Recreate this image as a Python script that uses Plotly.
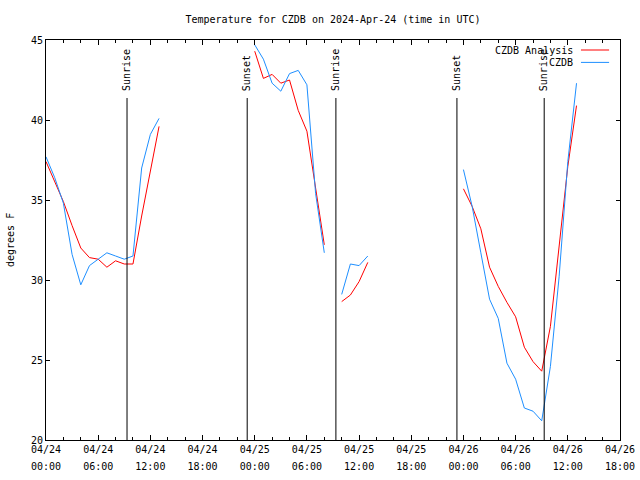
import plotly.graph_objects as go
import pandas as pd

# Hourly times from 2024-04-24 00:00 to 2024-04-26 13:00 (UTC)
times = pd.date_range("2024-04-24 00:00", "2024-04-26 13:00", freq="h")
N = None

analysis = [37.4, 36.2, 34.9, 33.4, 32.0, 31.4, 31.3, 30.8, 31.2, 31.0, 31.0, 34.0, 36.9, 39.6,
            N, N, N, N, N, N, N, N, N, N,
            44.3, 42.6, 42.85, 42.3, 42.5, 40.6, 39.3, 35.6, 32.2,
            N,
            28.65, 29.06, 29.9, 31.1,
            N, N, N, N, N, N, N, N, N, N,
            35.7, 34.6, 33.2, 30.8, 29.6, 28.6, 27.7, 25.8, 24.9, 24.3, 27.1, 32.1, 37.1, 40.9]

observed = [37.7, 36.4, 34.8, 31.6, 29.7, 30.9, 31.3, 31.7, 31.5, 31.3, 31.5, 37.0, 39.1, 40.1,
            N, N, N, N, N, N, N, N, N, N,
            44.7, 43.8, 42.3, 41.8, 42.9, 43.1, 42.2, 35.4, 31.7,
            N,
            29.1, 31.0, 30.9, 31.5,
            N, N, N, N, N, N, N, N, N, N,
            36.9, 34.6, 31.7, 28.8, 27.6, 24.8, 23.8, 22.0, 21.8, 21.2, 24.6, 30.2, 37.4, 42.3]

sun_times = ["2024-04-24 09:19", "2024-04-24 23:08", "2024-04-25 09:20",
             "2024-04-25 23:15", "2024-04-26 09:17"]
sun_labels = ["Sunrise", "Sunset", "Sunrise", "Sunset", "Sunrise"]

tick_vals = pd.date_range("2024-04-24 00:00", "2024-04-26 18:00", freq="6h")
tick_dates = [t.strftime("%m/%d") for t in tick_vals]
tick_hours = [t.strftime("%H:%M") for t in tick_vals]

series_names = ["CZDB Analysis", "CZDB"]
series_colors = ["#ff0000", "#1e8fff"]

FONT = "DejaVu Sans Mono"
XRANGE = ["2024-04-24 00:00", "2024-04-26 18:00"]

fig = go.Figure()
fig.add_trace(go.Scatter(x=times, y=analysis, mode="lines", name=series_names[0],
                         line=dict(color=series_colors[0], width=1), connectgaps=False,
                         showlegend=False, xaxis="x", yaxis="y"))
fig.add_trace(go.Scatter(x=times, y=observed, mode="lines", name=series_names[1],
                         line=dict(color=series_colors[1], width=1), connectgaps=False,
                         showlegend=False, xaxis="x2", yaxis="y"))

shapes = []
annotations = []
for t, lab in zip(sun_times, sun_labels):
    shapes.append(dict(type="line", xref="x", yref="paper", x0=t, x1=t, y0=0, y1=0.855,
                       line=dict(color="black", width=1)))
    annotations.append(dict(x=t, xref="x", y=0.8675, yref="paper", text=lab, textangle=-90,
                            showarrow=False, xanchor="center", yanchor="bottom",
                            font=dict(family=FONT, size=10, color="black")))

# manual legend (text right-aligned, sample on the right, gnuplot style)
leg_y = [0.975, 0.944]
for name, col, yy in zip(series_names, series_colors, leg_y):
    annotations.append(dict(x=0.921, xref="paper", y=yy, yref="paper", text=name,
                            showarrow=False, xanchor="right", yanchor="middle",
                            font=dict(family=FONT, size=10, color="black")))
    shapes.append(dict(type="line", xref="paper", yref="paper", x0=0.932, x1=0.981,
                       y0=yy, y1=yy, line=dict(color=col, width=1)))

annotations.append(dict(x=-0.0627, xref="paper", y=0.5, yref="paper", text="degrees F",
                        textangle=-90, showarrow=False, xanchor="center", yanchor="middle",
                        font=dict(family=FONT, size=10, color="black")))

fig.update_layout(
    width=640, height=480,
    margin=dict(l=46, r=20, t=40, b=40, autoexpand=False),
    plot_bgcolor="white", paper_bgcolor="white",
    font=dict(family=FONT, size=10, color="black"),
    title=dict(text="Temperature for CZDB on 2024-Apr-24 (time in UTC)", x=0.5, xref="paper",
               xanchor="center", y=1 - 19 / 480, yanchor="middle",
               font=dict(family=FONT, size=10, color="black")),
    shapes=shapes, annotations=annotations,
    showlegend=False,
    xaxis=dict(range=XRANGE, type="date", tickvals=list(tick_vals), ticktext=tick_dates,
               ticks="inside", ticklen=5, tickcolor="black",
               showline=True, linecolor="black", linewidth=1, mirror="ticks",
               showgrid=False, zeroline=False, automargin=False,
               minor=dict(dtick=2 * 3600 * 1000, ticks="inside", ticklen=3,
                          tickcolor="black", showgrid=False),
               tickfont=dict(family=FONT, size=10, color="black")),
    xaxis2=dict(range=XRANGE, type="date", overlaying="x", matches="x", side="bottom",
                anchor="y", tickvals=list(tick_vals), ticktext=tick_hours,
                ticks="", showline=False, showgrid=False, zeroline=False,
                automargin=False, ticklabelstandoff=19,
                tickfont=dict(family=FONT, size=10, color="black")),
    yaxis=dict(range=[20, 45], dtick=5, ticks="inside", ticklen=4, tickcolor="black",
               showline=True, linecolor="black", linewidth=1, mirror="ticks",
               showgrid=False, zeroline=False, automargin=False,
               tickfont=dict(family=FONT, size=10, color="black")),
)

fig.write_html("out.html")
